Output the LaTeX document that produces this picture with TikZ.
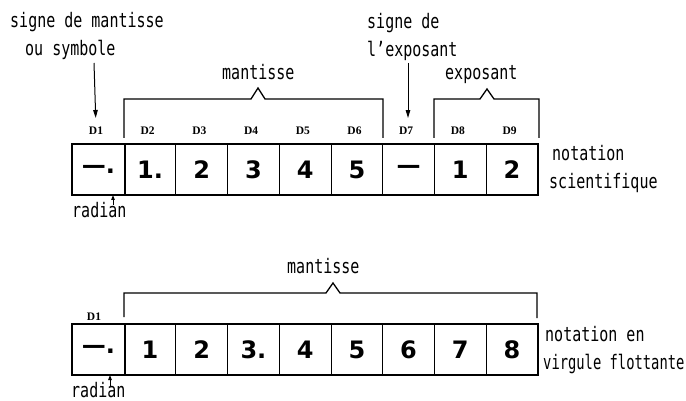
\documentclass[tikz,border=0pt]{standalone}
\usepackage{fontspec}
\setmainfont{DejaVu Sans}
\newfontfamily\lettering{DejaVu Sans Mono}[FakeStretch=0.75]
\newfontfamily\letteringN{DejaVu Sans Mono}[FakeStretch=0.69]
\newfontfamily\digitfont{DejaVu Sans}
\newfontfamily\dfont{Liberation Serif}
\usetikzlibrary{arrows.meta}
\begin{document}
\begin{tikzpicture}[x=1pt,y=-1pt,
  cell/.style={draw, line width=1pt, minimum width=51.7pt, minimum height=50pt, inner sep=0pt,
    anchor=north west, font=\digitfont\bfseries\fontsize{24}{24}\selectfont},
  lab/.style={font=\lettering\fontsize{20}{22}\selectfont, inner sep=0pt, anchor=base west},
  dlab/.style={font=\dfont\bfseries\fontsize{11.5}{12}\selectfont, inner sep=0pt},
  brk/.style={line width=1.3pt, line join=miter},
  frame/.style={line width=1.8pt},
  arr/.style={-{Triangle[length=8pt,width=4.5pt]}, line width=1pt}]
\useasboundingbox (0,0) rectangle (686,401);

% ---------- notation scientifique ----------
\foreach \i/\t in {1/{—.},2/{1.},3/{2},4/{3},5/{4},6/{5},7/{—},8/{1},9/{2}}{
  \node[cell] (t\i) at ({72+51.7*(\i-1)},144) {\t};
  \node[dlab] (dt\i) at ({72+51.7*(\i-1)+24},131) {D\i};
}
\draw[frame] (t1.north west) rectangle (t9.south east);
\draw[frame] (t1.north east) -- (t1.south east);

\node[lab] (sm1) at (10,28) {signe de mantisse};
\node[lab] (sm2) at (25,56) {ou symbole};
\coordinate (smA) at (94,63);
\draw[arr, shorten >=9pt] (smA) -- (dt1.north);

\node[lab] (se1) at (367,29) {signe de};
\node[lab] (se2) at (367,57) {l’exposant};
\coordinate (seA) at (408,63);
\draw[arr, shorten >=9pt] (seA) -- (dt7.north -| seA);

\node[lab] (mant1) at (222,80) {mantisse};
\draw[brk] (124,138) -- (124,99) -- (251,99) -- (258,88) -- (265,99) -- (383,99) -- (383,138);
\node[lab] (expo) at (445,80) {exposant};
\draw[brk] (434,138) -- (434,99) -- (480,99) -- (487,89) -- (494,99) -- (539,99) -- (539,138);

\node[lab] (rad1) at (72,218) {radian};
\coordinate (radA) at (113,205);
\draw[arr, -{Triangle[length=5pt,width=3.5pt]}] (radA) -- (t1.south -| radA);

\node[lab] (ns1) at (552,161) {notation};
\node[lab] (ns2) at (549,189) {scientifique};

% ---------- notation en virgule flottante ----------
\foreach \i/\t in {1/{—.},2/{1},3/{2},4/{3.},5/{4},6/{5},7/{6},8/{7},9/{8}}{
  \node[cell] (b\i) at ({72+51.7*(\i-1)},324) {\t};
}
\draw[frame] (b1.north west) rectangle (b9.south east);
\draw[frame] (b1.north east) -- (b1.south east);
\node[dlab] (db1) at (94,317) {D1};

\node[lab] (mant2) at (287,273) {mantisse};
\draw[brk] (124,317) -- (124,293) -- (326,293) -- (333,283) -- (340,293) -- (537,293) -- (537,318);

\node[lab] (rad2) at (71,397) {radian};
\coordinate (radB) at (110,386);
\draw[arr, -{Triangle[length=5pt,width=3.5pt]}] (radB) -- (b1.south -| radB);

\node[lab] (nv1) at (545,341) {notation en};
\node[lab, font=\letteringN\fontsize{20}{22}\selectfont] (nv2) at (543,369) {virgule flottante};
\end{tikzpicture}
\end{document}
